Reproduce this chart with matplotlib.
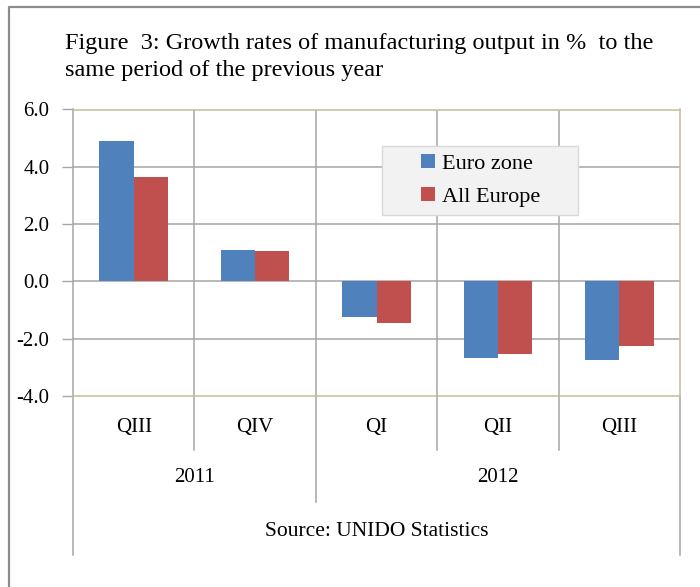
import matplotlib
matplotlib.use("Agg")
import matplotlib.pyplot as plt
import matplotlib.transforms as mtransforms
from matplotlib.patches import Rectangle
from matplotlib.lines import Line2D
import numpy as np

# ---- data ----
quarters = ["QIII", "QIV", "QI", "QII", "QIII"]
years = ["2011", "2012"]
year_spans = [(0, 1), (2, 4)]
euro_zone = [4.90, 1.08, -1.23, -2.67, -2.73]
all_europe = [3.64, 1.06, -1.45, -2.54, -2.25]
series_names = ["Euro zone", "All Europe"]
yticks = [-4.0, -2.0, 0.0, 2.0, 4.0, 6.0]
title = "Figure  3: Growth rates of manufacturing output in %  to the\nsame period of the previous year"
source = "Source: UNIDO Statistics"

# ---- style ----
plt.rcParams["font.family"] = ["Liberation Serif", "DejaVu Serif"]
plt.rcParams["axes.unicode_minus"] = False
BLUE = "#4f81bd"
RED = "#c0504d"
GRID = "#a6a6a6"
TAN = "#c4bd97"
FRAME = "#8c8c8c"

W, H = 700, 587
fig = plt.figure(figsize=(W / 100, H / 100), dpi=100)
fx = lambda x: x / W
fy = lambda y: 1 - y / H

ax = fig.add_axes([fx(73), fy(396), fx(680) - fx(73), fy(109.5) - fy(396)])
x = np.arange(len(quarters))
bw = 0.282
b1 = ax.bar(x - bw / 2, euro_zone, bw, color=BLUE, zorder=3)
b2 = ax.bar(x + bw / 2, all_europe, bw, color=RED, zorder=3)

ax.set_xlim(-0.5, len(quarters) - 0.5)
ax.set_ylim(yticks[0], yticks[-1])
ax.set_yticks(yticks)
ax.set_yticklabels([f"{v:.1f}" for v in yticks], fontsize=15)
ax.tick_params(axis="y", length=8, width=1, color=GRID, pad=9)
ax.set_xticks(x)
ax.set_xticklabels(quarters, fontsize=15)
ax.tick_params(axis="x", length=0, pad=16)

# gridlines
for v in yticks[1:-1]:
    ax.axhline(v, color=GRID, lw=1.1, zorder=1)
for xv in x[:-1] + 0.5:
    ax.axvline(xv, color=GRID, lw=1.1, zorder=1)

ax.spines["left"].set_color(GRID)
ax.spines["left"].set_linewidth(1.1)
for s in ["top", "right", "bottom"]:
    ax.spines[s].set_color(TAN)
    ax.spines[s].set_linewidth(1.1)

# category separators below the axis
bt = mtransforms.blended_transform_factory(ax.transData, fig.transFigure)
year_bounds = [year_spans[0][1] + 0.5]
for xv in x[:-1] + 0.5:
    ybot = 502 if xv in year_bounds else 450
    ax.plot([xv, xv], [fy(396), fy(ybot)], color=GRID, lw=1.1, transform=bt, clip_on=False)
for xv in (-0.5, len(quarters) - 0.5):
    ax.plot([xv, xv], [fy(396), fy(555)], color=GRID, lw=1.1, transform=bt, clip_on=False)

# year labels
for yr, (a, b) in zip(years, year_spans):
    ax.text((a + b) / 2, fy(478), yr, transform=bt, ha="center", va="center", fontsize=15)

# legend
ax.add_patch(Rectangle((fx(382), fy(215)), fx(578) - fx(382), fy(146) - fy(215),
                       transform=fig.transFigure, facecolor="#f2f2f2", edgecolor="#d9d9d9",
                       lw=1, zorder=4, clip_on=False))
leg = ax.legend([b1, b2], series_names, loc="center", bbox_to_anchor=(fx(481), fy(180.5)),
                bbox_transform=fig.transFigure, frameon=False, fontsize=16,
                handlelength=0.6, handleheight=0.6, handletextpad=0.35, labelspacing=0.58,
                borderpad=0)
leg.set_zorder(5)

# title and source
fig.text(fx(65), fy(57), title, ha="left", va="center", fontsize=17.5, linespacing=1.38)
fig.text(fx(376.5), fy(531), source, ha="center", va="center", fontsize=15.5)

# outer frame
fig.add_artist(Line2D([fx(9), fx(9), fx(705)], [fy(600), fy(7), fy(7)],
                      transform=fig.transFigure, color=FRAME, lw=1.6))

fig.savefig("out.png", dpi=100)
